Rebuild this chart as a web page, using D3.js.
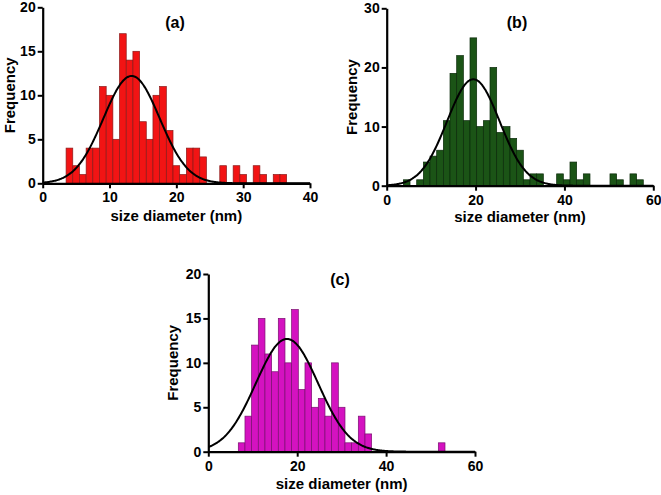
<!DOCTYPE html>
<html>
<head>
<meta charset="utf-8">
<script src="https://cdn.jsdelivr.net/npm/d3@7"></script>
<style>
  html, body { margin: 0; padding: 0; background: #fff; }
  svg { display: block; }
  text { font-family: Arial, "Liberation Sans", sans-serif; font-weight: bold; fill: #000; }
</style>
</head>
<body>
<svg id="chart" width="661" height="495"></svg>
<script>
// ---------- Data ----------
// Panel (a): bin centers (nm), bin width 1
const binsA = [4,5,6,7,8,9,10,11,12,13,14,15,16,17,18,19,20,21,22,23,24,25,26,27,28,29,30,31,32,33,34,35,36];
const countsA = [4,2,1,4,4,11,10,5,17,14,15,7,5,10,11,6,2,1,4,4,3,0,0,2,0,2,1,0,2,1,0,1,1];
// Panel (b): bin centers (nm), bin width 1.5
const binsB = [4.5,6,7.5,9,10.5,12,13.5,15,16.5,18,19.5,21,22.5,24,25.5,27,28.5,30,31.5,33,34.5,36,37.5,39,40.5,42,43.5,45,46.5,48,49.5,51,52.5,54,55.5,57];
const countsB = [1,0,1,4,5,6,11,19,22,11,25,10,11,20,9,10,8,6,1,2,2,0,0,2,1,4,1,2,0,0,0,2,1,0,2,1];
// Panel (c): bin centers (nm), bin width 1.5
const binsC = [7.5,9,10.5,12,13.5,15,16.5,18,19.5,21,22.5,24,25.5,27,28.5,30,31.5,33,34.5,36,37.5,39,40.5,42,43.5,45,46.5,48,49.5,51,52.5];
const countsC = [1,4,12,15,11,9,15,10,16,7,10,5,6,4,10,5,1,1,4,2,0,0,0,0,0,0,0,0,0,0,1];
// Gaussian fit parameters (amplitude, mean, sd) for (a), (b), (c)
const fitAmp = [12.2, 18.0, 12.7];
const fitMean = [13.3, 19.5, 17.7];
const fitSD = [4.2, 5.9, 7.0];
// Axis ticks
const xTicksA = [0,10,20,30,40];
const yTicksA = [0,5,10,15,20];
const xTicksB = [0,20,40,60];
const yTicksB = [0,10,20,30];
const xTicksC = [0,20,40,60];
const yTicksC = [0,5,10,15,20];
const labels = ["(a)", "(b)", "(c)"];
const xTitle = "size diameter (nm)";
const yTitle = "Frequency";

// ---------- Layout ----------
const panels = [
  { bins: binsA, counts: countsA, width: 1, xmax: 40, ymax: 20, xt: xTicksA, yt: yTicksA,
    left: 42.7, right: 310, top: 7.3, bottom: 183.3, fill: "#f21414", stroke: "#8a1a1a",
    titleX: 175, titleY: 28, xTitleY: 221, yTitleX: 15 },
  { bins: binsB, counts: countsB, width: 1.5, xmax: 60, ymax: 30, xt: xTicksB, yt: yTicksB,
    left: 386.7, right: 653.3, top: 8.3, bottom: 185.7, fill: "#1b5416", stroke: "#0b2a0a",
    titleX: 517, titleY: 28, xTitleY: 222, yTitleX: 357 },
  { bins: binsC, counts: countsC, width: 1.5, xmax: 60, ymax: 20, xt: xTicksC, yt: yTicksC,
    left: 208.3, right: 475, top: 274, bottom: 451.7, fill: "#d412c0", stroke: "#7a1070",
    titleX: 340, titleY: 285, xTitleY: 489, yTitleX: 178 }
];

const svg = d3.select("#chart");

panels.forEach((p, i) => {
  const g = svg.append("g");
  const x = d3.scaleLinear().domain([0, p.xmax]).range([p.left, p.right]);
  const y = d3.scaleLinear().domain([0, p.ymax]).range([p.bottom, p.top]);

  // bars
  const data = p.bins.map((b, j) => ({ c: b, n: p.counts[j] })).filter(d => d.n > 0);
  g.selectAll("rect.bar").data(data).enter().append("rect")
    .attr("class", "bar")
    .attr("x", d => x(d.c - p.width / 2))
    .attr("width", d => x(d.c + p.width / 2) - x(d.c - p.width / 2))
    .attr("y", d => y(d.n))
    .attr("height", d => y(0) - y(d.n))
    .attr("fill", p.fill)
    .attr("stroke", p.stroke)
    .attr("stroke-width", 0.7);

  // gaussian fit curve
  const xs = d3.range(0, p.xmax + 0.001, p.xmax / 300);
  const line = d3.line()
    .x(v => x(v))
    .y(v => y(fitAmp[i] * Math.exp(-0.5 * Math.pow((v - fitMean[i]) / fitSD[i], 2))))
    .curve(d3.curveBasis);
  g.append("path")
    .attr("d", line(xs))
    .attr("fill", "none")
    .attr("stroke", "#000")
    .attr("stroke-width", 2);

  // axes
  const xAxis = d3.axisBottom(x).tickValues(p.xt).tickSize(5).tickSizeOuter(0).tickPadding(3);
  const yAxis = d3.axisLeft(y).tickValues(p.yt).tickSize(5).tickSizeOuter(0).tickPadding(2);
  const gx = g.append("g").attr("transform", `translate(0,${p.bottom})`).call(xAxis);
  const gy = g.append("g").attr("transform", `translate(${p.left},0)`).call(yAxis);
  [gx, gy].forEach(ax => {
    ax.select(".domain").attr("stroke", "#000").attr("stroke-width", 2.2);
    ax.selectAll(".tick line").attr("stroke", "#000").attr("stroke-width", 2);
    ax.selectAll(".tick text").style("font-size", "14px").style("font-weight", "bold")
      .style("font-family", "Arial, 'Liberation Sans', sans-serif").attr("fill", "#000");
  });
  gx.selectAll(".tick text").attr("dy", "0.8em");

  // titles
  g.append("text").attr("x", p.titleX).attr("y", p.titleY)
    .attr("text-anchor", "middle").style("font-size", "16px").text(labels[i]);
  g.append("text").attr("x", (p.left + p.right) / 2).attr("y", p.xTitleY)
    .attr("text-anchor", "middle").style("font-size", "15px").text(xTitle);
  g.append("text")
    .attr("transform", `translate(${p.yTitleX},${(p.top + p.bottom) / 2}) rotate(-90)`)
    .attr("text-anchor", "middle").style("font-size", "15px").text(yTitle);
});
</script>
</body>
</html>
